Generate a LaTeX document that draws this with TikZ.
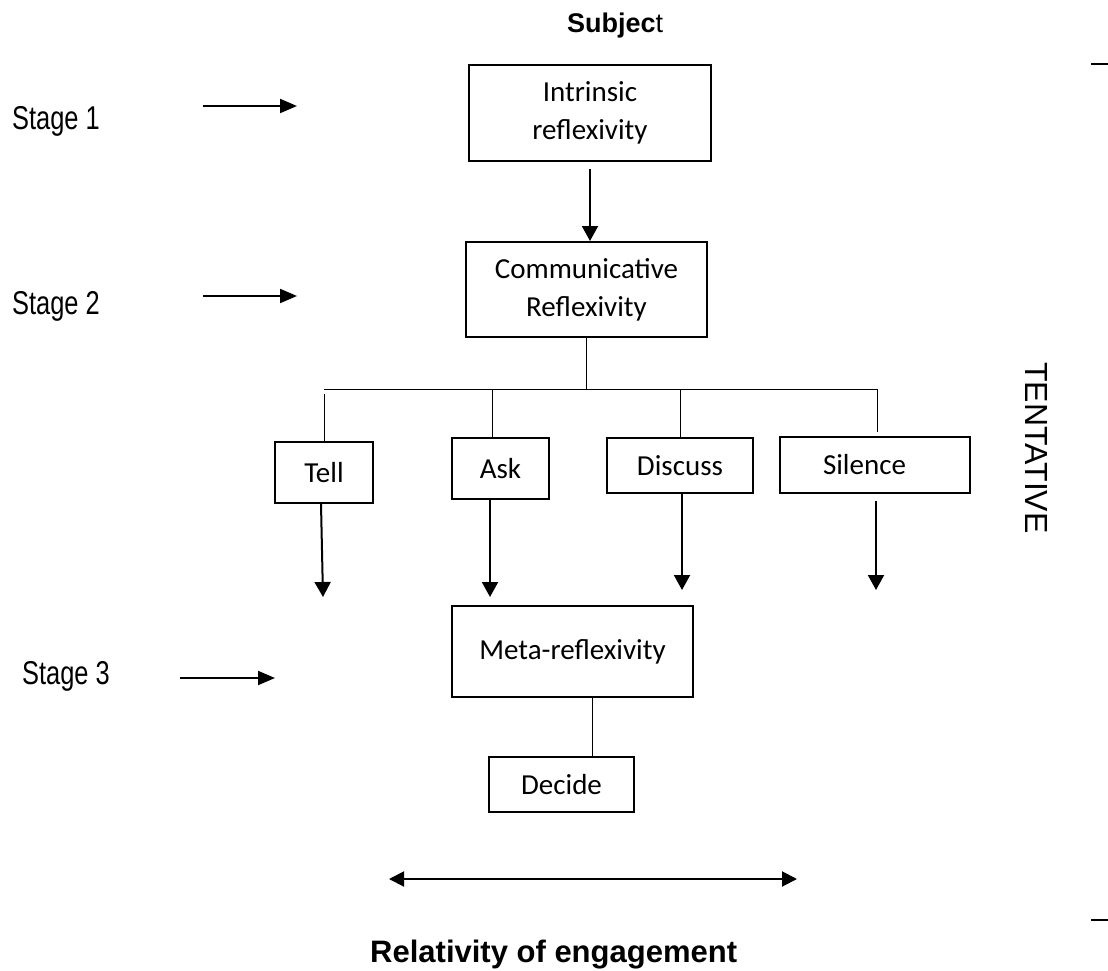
\documentclass[tikz,border=0pt]{standalone}
\usepackage{fontspec}
\setmainfont{Carlito}
\newfontfamily\labelfont{Liberation Sans}
\newfontfamily\stagefont[FakeStretch=0.77]{Liberation Sans}
\usetikzlibrary{arrows.meta}
\begin{document}
\begin{tikzpicture}[x=1pt,y=-1pt,
  box/.style={draw,line width=2pt,inner sep=0pt,align=center,
              font=\fontsize{29}{38}\selectfont},
  arr/.style={line width=2pt,-{Triangle[width=16pt,length=15pt]}},
  sarr/.style={line width=2pt,-{Triangle[width=14pt,length=17pt]}},
  twig/.style={line width=1pt},
  stagelbl/.style={font=\stagefont\fontsize{33}{38}\selectfont,
                   anchor=base west,inner sep=0pt},
  tick/.style={line width=1.5pt}]

\fill[white] (0,0) rectangle (1108,971);
\useasboundingbox (0,0) rectangle (1108,971);

% heading
\node[font=\labelfont\fontsize{27}{30}\selectfont,anchor=base west,inner sep=0pt]
  (subj) at (567,33) {\bfseries Subjec\mdseries t};

% main boxes
\node[box,minimum width=242pt,minimum height=96pt] (intr) at (590,113) {Intrinsic\\reflexivity};
\node[box,minimum width=241pt,minimum height=95pt] (comm) at (586.5,289.5) {Communicative\\Reflexivity};
\node[box,minimum width=98pt,minimum height=61pt]  (tell) at (324,472.5) {Tell};
\node[box,minimum width=97pt,minimum height=61pt]  (ask)  at (500.5,468.5) {Ask};
\node[box,minimum width=146pt,minimum height=55pt] (disc) at (680,465.5) {Discuss};
\node[box,minimum height=56pt,text width=104pt,inner xsep=43pt,align=left]
  (sil)  at (875,465) {Silence};
\node[box,minimum width=241pt,minimum height=91pt] (meta) at (572.5,651.5) {Meta-reflexivity};
\node[box,minimum width=145pt,minimum height=55pt] (dec)  at (561.5,784.5) {Decide};

% stage labels and their pointers
\node[stagelbl] (s1) at (12,129) {Stage 1};
\node[stagelbl] (s2) at (12,314) {Stage 2};
\node[stagelbl] (s3) at (22,684) {Stage 3};
\coordinate (s1a) at (203,106); \coordinate (s1b) at (297,106);
\coordinate (s2a) at (203,296); \coordinate (s2b) at (297,296);
\coordinate (s3a) at (180,678); \coordinate (s3b) at (275,678);
\draw[sarr] (s1a) -- (s1b);
\draw[sarr] (s2a) -- (s2b);
\draw[sarr] (s3a) -- (s3b);

% side label
\node[font=\labelfont\fontsize{32}{36}\selectfont,rotate=-90,inner sep=0pt]
  (tent) at (1036,448) {TENTATIVE};

% stage 1 to stage 2
\draw[arr] ([yshift=-7pt]intr.south) -- (intr.south |- comm.north);

% branching to the four responses
\coordinate (bl) at (324,389);
\coordinate (br) at (877,389);
\coordinate (askj) at (492,389);
\draw[twig] (comm.south) -- (comm.south |- bl);
\draw[twig] (bl) -- (br);
\draw[twig] ([yshift=-5pt]bl) -- (bl |- tell.north);
\draw[twig] (askj) -- (askj |- ask.north);
\draw[twig] (disc.north |- bl) -- (disc.north);
\draw[twig] (br) -- ([yshift=4pt]br |- sil.north);

% arrows down from the responses
\coordinate (tellend) at (323,597);
\coordinate (askend)  at (490,597);
\coordinate (discend) at (682,590);
\coordinate (silend)  at (876,590);
\draw[arr] ([xshift=-3pt]tell.south) -- (tellend);
\draw[arr] (askend |- ask.south) -- (askend);
\draw[arr] (discend |- disc.south) -- (discend);
\draw[arr] ([yshift=-7pt]silend |- sil.south) -- (silend);

% meta-reflexivity to decision
\coordinate (mdj) at (592,700);
\draw[twig] (mdj |- meta.south) -- (mdj |- dec.north);

% engagement scale
\coordinate (eL) at (389,879);
\coordinate (eR) at (797,879);
\draw[line width=2pt,{Triangle[width=15pt,length=15pt]}-{Triangle[width=15pt,length=15pt]}] (eL) -- (eR);
\node[font=\labelfont\bfseries\fontsize{31}{36}\selectfont,anchor=base west,inner sep=0pt]
  (rel) at (370,962) {Relativity of engagement};

% margin ticks
\coordinate (m1) at (1091,64);
\coordinate (m2) at (1091,920);
\draw[tick] (m1) -- ++(17,0);
\draw[tick] (m2) -- ++(17,0);
\end{tikzpicture}
\end{document}
